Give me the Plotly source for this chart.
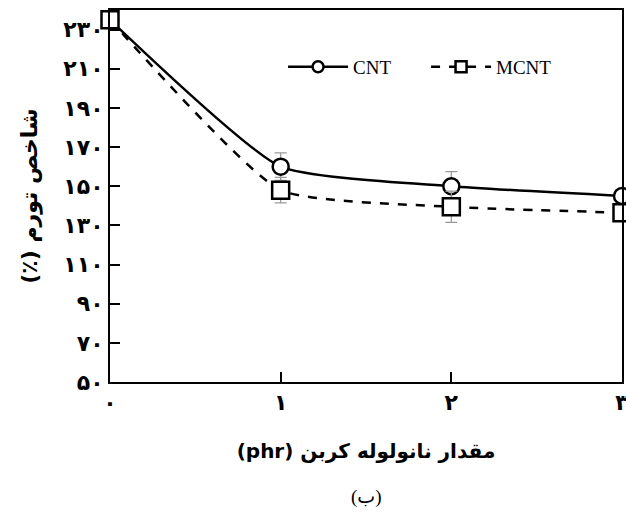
import plotly.graph_objects as go

# Data
x_vals = [0, 1, 2, 3]
cnt = [235, 160, 150, 145]
mcnt = [235, 148, 139.5, 136.5]
cnt_err = [0, 7, 7.5, 3]
mcnt_err = [0, 6.5, 8, 3]

x_tickvals = [0, 1, 2, 3]
x_ticktext = ["۰", "۱", "۲", "۳"]
y_tickvals = [50, 70, 90, 110, 130, 150, 170, 190, 210, 230]
y_ticktext = ["۵۰", "۷۰", "۹۰", "۱۱۰", "۱۳۰", "۱۵۰", "۱۷۰", "۱۹۰", "۲۱۰", "۲۳۰"]

x_title = "(phr) مقدار نانولوله کربن"
y_title = "(٪) شاخص تورم"
caption = "(ب)"

PF = "DejaVu Sans"
SM = 0.5

fig = go.Figure()
fig.add_trace(go.Scatter(
    x=x_vals, y=cnt, name="CNT", mode="lines+markers", showlegend=False,
    line=dict(color="black", width=2.5, shape="spline", smoothing=SM),
    marker=dict(symbol="circle", size=16, color="white", line=dict(color="black", width=2.5)),
    error_y=dict(type="data", array=cnt_err, color="#999999", thickness=1.2, width=6),
    cliponaxis=False,
))
fig.add_trace(go.Scatter(
    x=x_vals, y=mcnt, name="MCNT", mode="lines+markers", showlegend=False,
    line=dict(color="black", width=2.5, dash="dash", shape="spline", smoothing=SM),
    marker=dict(symbol="square", size=17, color="white", line=dict(color="black", width=2.5)),
    error_y=dict(type="data", array=mcnt_err, color="#999999", thickness=1.2, width=6),
    cliponaxis=False,
))
# legend entries (smaller symbols as in the reference legend)
fig.add_trace(go.Scatter(
    x=[None], y=[None], name="CNT", mode="lines+markers",
    line=dict(color="black", width=2.5),
    marker=dict(symbol="circle", size=11, color="white", line=dict(color="black", width=2.5)),
))
fig.add_trace(go.Scatter(
    x=[None], y=[None], name="MCNT", mode="lines+markers",
    line=dict(color="black", width=2.5, dash="dash"),
    marker=dict(symbol="square", size=11, color="white", line=dict(color="black", width=2.5)),
))

fig.update_layout(
    width=626, height=520,
    margin=dict(l=110, r=4, t=10, b=138),
    paper_bgcolor="white", plot_bgcolor="white",
    showlegend=True,
    legend=dict(
        orientation="h", x=0.338, y=0.847, xanchor="left", yanchor="middle",
        font=dict(family="Liberation Serif", size=19, color="black"),
        bgcolor="rgba(0,0,0,0)", itemwidth=60, entrywidth=68, entrywidthmode="pixels",
    ),
    xaxis=dict(
        range=[0, 3], tickvals=x_tickvals, ticktext=x_ticktext,
        showline=True, linecolor="black", linewidth=2, mirror=True,
        ticks="inside", ticklen=10, tickwidth=1.5, tickcolor="black",
        showgrid=False, zeroline=False, ticklabeloverflow="allow", automargin=False,
        tickfont=dict(family=PF, size=22, color="black", weight="bold"),
        title=dict(text=x_title, font=dict(family=PF, size=20, color="black", weight="bold"), standoff=30),
    ),
    yaxis=dict(
        range=[50, 240], tickvals=y_tickvals, ticktext=y_ticktext,
        showline=True, linecolor="black", linewidth=2, mirror=True,
        ticks="inside", ticklen=10, tickwidth=1.5, tickcolor="black",
        showgrid=False, zeroline=False, ticklabeloverflow="allow", automargin=False,
        tickfont=dict(family=PF, size=22, color="black", weight="bold"),
        title=dict(text=y_title, font=dict(family=PF, size=22, color="black", weight="bold"), standoff=20),
    ),
    annotations=[dict(
        text=caption, xref="paper", yref="paper", x=0.5, y=-0.31,
        xanchor="center", yanchor="middle", showarrow=False,
        font=dict(family="Liberation Serif, DejaVu Sans", size=19, color="black"),
    )],
)

fig.write_html("out.html")
